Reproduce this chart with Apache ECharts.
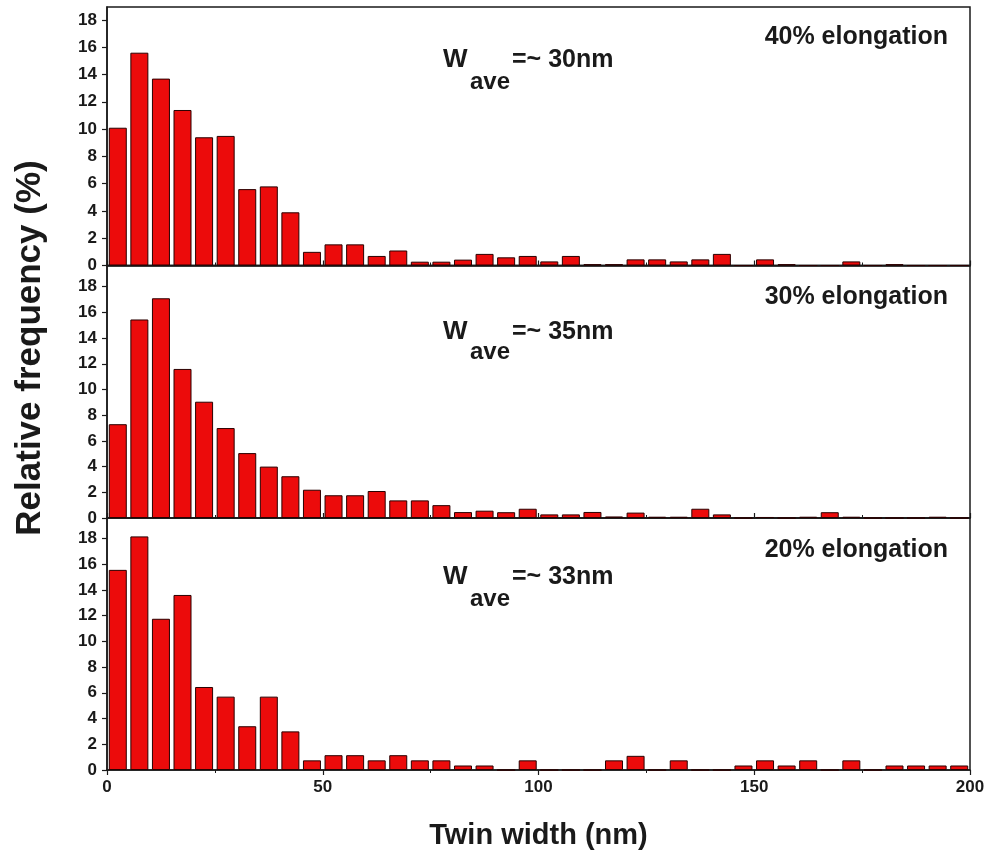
<!DOCTYPE html>
<html>
<head>
<meta charset="utf-8">
<script src="https://cdn.jsdelivr.net/npm/echarts@6/dist/echarts.min.js"></script>
<style>html,body{margin:0;padding:0;background:#fff;}#c{width:994px;height:861px;}</style>
</head>
<body>
<div id="c"></div>
<script>
// Bin width (nm) of the histograms, bins start at 0
var binWidth = 5;
// Relative frequency (%) per 5 nm bin, 0-200 nm
var freq40 = [10.1, 15.6, 13.7, 11.4, 9.4, 9.5, 5.6, 5.8, 3.9, 1.0,
              1.55, 1.55, 0.7, 1.1, 0.28, 0.28, 0.43, 0.85, 0.6, 0.7,
              0.3, 0.7, 0.1, 0.1, 0.45, 0.45, 0.3, 0.45, 0.85, 0,
              0.45, 0.1, 0, 0, 0.3, 0, 0.1, 0, 0, 0];
var freq30 = [7.3, 15.45, 17.1, 11.6, 9.05, 7.0, 5.05, 4.0, 3.25, 2.2,
              1.77, 1.77, 2.1, 1.37, 1.37, 1.0, 0.46, 0.57, 0.45, 0.72,
              0.28, 0.28, 0.47, 0.12, 0.42, 0.1, 0.1, 0.72, 0.28, 0,
              0.08, 0, 0.1, 0.45, 0.1, 0, 0, 0, 0.1, 0];
var freq20 = [15.55, 18.15, 11.75, 13.6, 6.45, 5.7, 3.4, 5.7, 3.0, 0.75,
              1.15, 1.15, 0.75, 1.15, 0.75, 0.75, 0.35, 0.35, 0, 0.75,
              0, 0, 0, 0.75, 1.1, 0, 0.75, 0, 0, 0.35,
              0.75, 0.35, 0.75, 0, 0.75, 0, 0.35, 0.35, 0.35, 0.35];
var panelLabels = ['40% elongation', '30% elongation', '20% elongation'];
var avgLabels = ['=~ 30nm', '=~ 35nm', '=~ 33nm'];
var yTickValues = [0, 2, 4, 6, 8, 10, 12, 14, 16, 18];
var xTickLabels = [0, 50, 100, 150, 200];
var xTitle = 'Twin width (nm)';
var yTitle = 'Relative frequency (%)';

var FONT = '"Liberation Sans", Arial, sans-serif';
var panels = [freq40, freq30, freq20];
var grids = [
  {left: 107, width: 863, top: 7, height: 258.5},
  {left: 107, width: 863, top: 265.5, height: 252.5},
  {left: 107, width: 863, top: 518, height: 252}
];
var yMax = [18.95, 19.65, 19.58];

function toPoints(arr) {
  return arr.map(function (v, i) { return [binWidth * i + binWidth / 2, v]; });
}

var option = {
  backgroundColor: '#fff',
  animation: false,
  grid: grids.map(function (g) {
    return Object.assign({show: true, borderColor: '#1a1a1a', borderWidth: 1.5, backgroundColor: 'transparent', containLabel: false}, g);
  }),
  xAxis: panels.map(function (p, i) {
    var last = i === panels.length - 1;
    return {
      type: 'value', gridIndex: i, min: 0, max: 200, interval: 50,
      axisLine: {show: true, onZero: false, lineStyle: {color: '#1a1a1a', width: 1.5}},
      axisTick: {show: true, inside: !last, length: 5, lineStyle: {color: '#1a1a1a', width: 1.2}},
      minorTick: {show: true, splitNumber: 2, length: 3, lineStyle: {color: '#1a1a1a', width: 1}},
      splitLine: {show: false},
      axisLabel: {show: last, margin: 9, color: '#1a1a1a', fontFamily: FONT, fontWeight: 'bold', fontSize: 17,
        formatter: function (v) { return xTickLabels.indexOf(v) >= 0 ? String(v) : ''; }},
      name: last ? xTitle : '', nameLocation: 'middle', nameGap: 51,
      nameTextStyle: {color: '#1a1a1a', fontFamily: FONT, fontWeight: 'bold', fontSize: 29}
    };
  }),
  yAxis: panels.map(function (p, i) {
    return {
      type: 'value', gridIndex: i, min: 0, max: yMax[i],
      axisLine: {show: true, lineStyle: {color: '#1a1a1a', width: 1.5}},
      axisTick: {show: true, inside: false, length: 5, customValues: yTickValues, lineStyle: {color: '#1a1a1a', width: 1.2}},
      splitLine: {show: false},
      axisLabel: {show: true, margin: 10, customValues: yTickValues, color: '#1a1a1a', fontFamily: FONT, fontWeight: 'bold', fontSize: 17}
    };
  }),
  series: panels.map(function (p, i) {
    return {
      type: 'bar', xAxisIndex: i, yAxisIndex: i, data: toPoints(p), barWidth: 18,
      itemStyle: {color: '#ec0b0b', borderColor: '#2a0000', borderWidth: 1},
      silent: true
    };
  }),
  graphic: [{
    type: 'text', x: 30, y: 348, rotation: Math.PI / 2,
    style: {text: yTitle, align: 'center', verticalAlign: 'middle', fill: '#1a1a1a', font: 'bold 35px ' + FONT}
  }]
};

var elongY = [37.4, 297.4, 550.4];
var wY = [59.4, 331.4, 576.4];
var aveY = [82, 352, 599];
for (var i = 0; i < 3; i++) {
  option.graphic.push({type: 'text', style: {x: 948, y: elongY[i], text: panelLabels[i], align: 'right', verticalAlign: 'middle', fill: '#1a1a1a', font: 'bold 25px ' + FONT}});
  option.graphic.push({type: 'text', style: {x: 443, y: wY[i], text: 'W', align: 'left', verticalAlign: 'middle', fill: '#1a1a1a', font: 'bold 26px ' + FONT}});
  option.graphic.push({type: 'text', style: {x: 470, y: aveY[i], text: 'ave', align: 'left', verticalAlign: 'middle', fill: '#1a1a1a', font: 'bold 24px ' + FONT}});
  option.graphic.push({type: 'text', style: {x: 512, y: wY[i] + 1, text: avgLabels[i], align: 'left', verticalAlign: 'middle', fill: '#1a1a1a', font: 'bold 25px ' + FONT}});
}

var chart = echarts.init(document.getElementById('c'), null, {renderer: 'canvas'});
chart.setOption(option);
</script>
</body>
</html>
